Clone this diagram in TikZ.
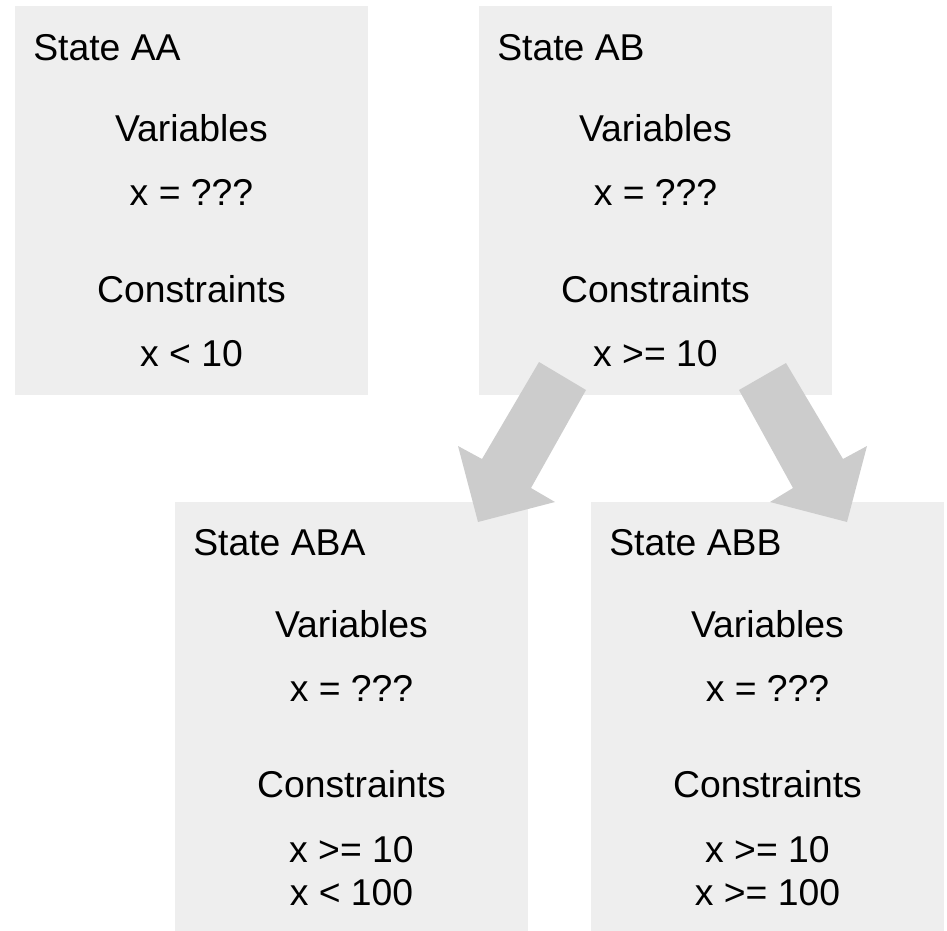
\documentclass[tikz,border=0pt]{standalone}
\usepackage{fontspec}
\setmainfont{Liberation Sans}
\definecolor{boxgray}{HTML}{EEEEEE}
\definecolor{arrowgray}{HTML}{CCCCCC}
\begin{document}
\begin{tikzpicture}[x=0.75pt,y=-0.75pt,
  statebox/.style={fill=boxgray, draw=none, inner sep=0pt, minimum width=353*0.75pt, anchor=north west},
  title/.style={anchor=base west, inner sep=0pt, font=\fontsize{28}{34}\selectfont},
  entry/.style={anchor=base, inner sep=0pt, font=\fontsize{28}{34}\selectfont},
  bigarrow/.style={fill=arrowgray, draw=none}]
\useasboundingbox (0,0) rectangle (947,931);

% state boxes
\node[statebox, minimum height=389*0.75pt] (aa)  at (15,6)   {};
\node[statebox, minimum height=389*0.75pt] (ab)  at (479,6)  {};
\node[statebox, minimum height=429*0.75pt] (aba) at (175,502) {};
\node[statebox, minimum height=429*0.75pt] (abb) at (591,502) {};

% State AA
\node[title] (aat) at (33,61) {State AA};
\node[entry] (aav) at (191.5,142) {Variables};
\node[entry] (aax) at (191.5,205) {x = ???};
\node[entry] (aac) at (191.5,302) {Constraints};
\node[entry] (aak) at (191.5,366) {x < 10};

% State AB
\node[title] (abt) at (497,61) {State AB};
\node[entry] (abv) at (655.5,142) {Variables};
\node[entry] (abx) at (655.5,205) {x = ???};
\node[entry] (abc) at (655.5,302) {Constraints};
\node[entry] (abk) at (655.5,366) {x >= 10};

% State ABA
\node[title] (abat) at (193,555) {State ABA};
\node[entry] (abav) at (351.5,637) {Variables};
\node[entry] (abax) at (351.5,701) {x = ???};
\node[entry] (abac) at (351.5,797) {Constraints};
\node[entry] (abak) at (351.5,862) {x >= 10};
\node[entry] (abal) at (351.5,905) {x < 100};

% State ABB
\node[title] (abbt) at (609,555) {State ABB};
\node[entry] (abbv) at (767.5,637) {Variables};
\node[entry] (abbx) at (767.5,701) {x = ???};
\node[entry] (abbc) at (767.5,797) {Constraints};
\node[entry] (abbk) at (767.5,862) {x >= 10};
\node[entry] (abbl) at (767.5,905) {x >= 100};

% block arrows from AB to its two successors
\fill[bigarrow] (539,362) -- (586,390) -- (531,488) -- (555,502) -- (478,522)
  -- (458,446) -- (482,459) -- cycle;
\fill[bigarrow] (786,363) -- (739,390) -- (793,488) -- (770,502) -- (847,522)
  -- (867,446) -- (843,459) -- cycle;
\end{tikzpicture}
\end{document}
